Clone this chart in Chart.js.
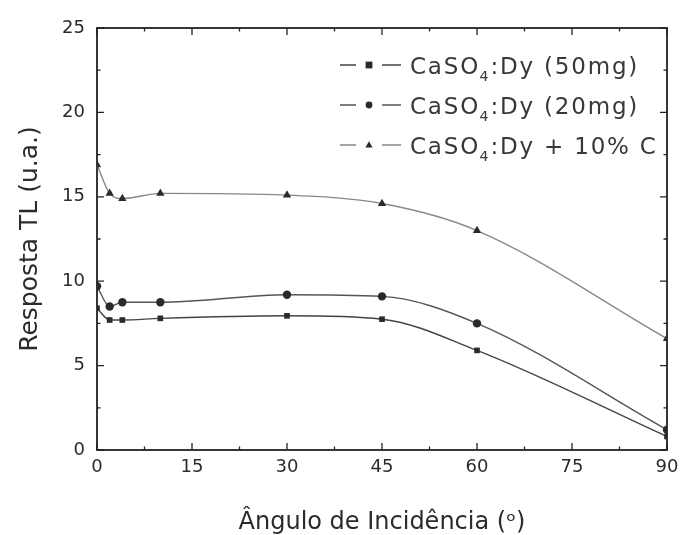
<!DOCTYPE html>
<html><head><meta charset="utf-8">
<script src="https://cdn.jsdelivr.net/npm/chart.js@4.4.1/dist/chart.umd.min.js"></script>
<style>html,body{margin:0;padding:0;background:#fff;} #wrap{width:686px;height:535px;position:relative;}</style>
</head><body><div id="wrap"><canvas id="c" width="686" height="535"></canvas></div>
<script>
const angles = [0, 2, 4, 10, 30, 45, 60, 90];
const resp50mg = [8.4, 7.7, 7.7, 7.8, 7.95, 7.75, 5.9, 0.8];
const resp20mg = [9.7, 8.5, 8.75, 8.75, 9.2, 9.1, 7.5, 1.2];
const respC = [16.9, 15.2, 14.9, 15.2, 15.1, 14.6, 13.0, 6.6];
const seriesLabels = ['CaSO\u2084:Dy (50mg)', 'CaSO\u2084:Dy (20mg)', 'CaSO\u2084:Dy + 10% C'];
const xTitle = '\u00C2ngulo de Incid\u00EAncia (\u1D52)';
const yTitle = 'Resposta TL (u.a.)';
const xMin = 0, xMax = 90, xStep = 15;
const yMin = 0, yMax = 25, yStep = 5;

const FONT = "'DejaVu Sans', Verdana, sans-serif";
const TXT = '#2b2b2b';

function pts(ys){ return angles.map((a,i)=>({x:a,y:ys[i]})); }

const styles = [
  {shape:'rect', line:'#444444', r:4.0},
  {shape:'circle', line:'#555555', r:4.2},
  {shape:'triangle', line:'#888888', r:4.8}
];
const seriesData = [resp50mg, resp20mg, respC];

const datasets = seriesData.map((d,i)=>({
  label: seriesLabels[i],
  data: pts(d),
  borderColor: styles[i].line,
  borderWidth: 1.4,
  backgroundColor: '#2a2a2a',
  pointBackgroundColor: '#2a2a2a',
  pointBorderColor: '#2a2a2a',
  pointBorderWidth: 0,
  pointStyle: styles[i].shape,
  pointRadius: styles[i].r,
  pointHoverRadius: styles[i].r,
  cubicInterpolationMode: 'monotone',
  fill: false
}));

const frameTicks = {
  id: 'frameTicks',
  beforeDatasetsDraw(chart){
    const {ctx, chartArea:a, scales:{x, y}} = chart;
    ctx.save();
    ctx.strokeStyle = '#222222';
    ctx.lineWidth = 1.8;
    ctx.strokeRect(a.left, a.top, a.right - a.left, a.bottom - a.top);
    ctx.lineWidth = 1.3;
    ctx.beginPath();
    for (let v = xMin; v <= xMax + 1e-9; v += xStep/2) {
      const px = x.getPixelForValue(v);
      const major = Math.abs(v/xStep - Math.round(v/xStep)) < 1e-6;
      const L = major ? 7 : 3.5;
      ctx.moveTo(px, a.bottom); ctx.lineTo(px, a.bottom - L);
      ctx.moveTo(px, a.top); ctx.lineTo(px, a.top + L);
    }
    for (let v = yMin; v <= yMax + 1e-9; v += yStep/2) {
      const py = y.getPixelForValue(v);
      const major = Math.abs(v/yStep - Math.round(v/yStep)) < 1e-6;
      const L = major ? 7 : 3.5;
      ctx.moveTo(a.left, py); ctx.lineTo(a.left + L, py);
      ctx.moveTo(a.right, py); ctx.lineTo(a.right - L, py);
    }
    ctx.stroke();
    ctx.restore();
  }
};

function drawMarker(ctx, shape, cx, cy, r){
  ctx.beginPath();
  if (shape === 'rect') { ctx.rect(cx - r, cy - r, 2*r, 2*r); }
  else if (shape === 'circle') { ctx.arc(cx, cy, r, 0, Math.PI*2); }
  else { const h = r*1.8; ctx.moveTo(cx, cy - h*0.6); ctx.lineTo(cx + r*1.05, cy + h*0.4); ctx.lineTo(cx - r*1.05, cy + h*0.4); ctx.closePath(); }
  ctx.fill();
}

const customLegend = {
  id: 'customLegend',
  afterDraw(chart){
    const ctx = chart.ctx;
    ctx.save();
    const rows = [65, 105, 145];
    chart.data.datasets.forEach((ds, i) => {
      const yy = rows[i];
      ctx.strokeStyle = ds.borderColor;
      ctx.lineWidth = 1.3;
      ctx.beginPath();
      ctx.moveTo(340, yy); ctx.lineTo(356, yy);
      ctx.moveTo(382, yy); ctx.lineTo(401, yy);
      ctx.stroke();
      ctx.fillStyle = '#2a2a2a';
      drawMarker(ctx, styles[i].shape, 369, yy, 3.4);
      ctx.fillStyle = '#383838';
      ctx.textBaseline = 'alphabetic';
      ctx.textAlign = 'left';
      const parts = ds.label.split('\u2084');
      let xx = 410;
      const base = yy + 8.5;
      ctx.letterSpacing = '1.8px';
      ctx.font = '23px ' + FONT;
      ctx.fillText(parts[0], xx, base);
      xx += ctx.measureText(parts[0]).width;
      ctx.font = '14px ' + FONT;
      ctx.letterSpacing = '0px';
      ctx.fillText('4', xx - 0.5, base + 7.5);
      xx += ctx.measureText('4').width + 1.5;
      ctx.letterSpacing = '1.8px';
      ctx.font = '23px ' + FONT;
      ctx.fillText(parts[1], xx, base);
    });
    ctx.restore();
  }
};

new Chart(document.getElementById('c'), {
  type: 'line',
  data: { datasets },
  options: {
    responsive: false,
    animation: false,
    devicePixelRatio: 1,
    layout: { padding: { top: 28, right: 19, bottom: 0, left: 0 } },
    plugins: { legend: { display: false }, tooltip: { enabled: false } },
    scales: {
      x: {
        type: 'linear', min: xMin, max: xMax,
        afterFit(s){ s.height = 85; },
        afterBuildTicks(s){ s.ticks = []; for (let v = xMin; v <= xMax; v += xStep) s.ticks.push({value: v}); },
        ticks: { color: TXT, font: { family: FONT, size: 18 }, padding: 7, maxRotation: 0, autoSkip: false },
        grid: { display: false, drawTicks: false },
        border: { display: false },
        title: { display: true, text: xTitle, color: TXT, font: { family: FONT, size: 24, lineHeight: 1 }, padding: { top: 6, bottom: 0 } }
      },
      y: {
        type: 'linear', min: yMin, max: yMax,
        afterFit(s){ s.width = 97; },
        afterBuildTicks(s){ s.ticks = []; for (let v = yMin; v <= yMax; v += yStep) s.ticks.push({value: v}); },
        ticks: { color: TXT, font: { family: FONT, size: 18 }, padding: 12, autoSkip: false },
        grid: { display: false, drawTicks: false },
        border: { display: false },
        title: { display: true, text: yTitle, color: TXT, font: { family: FONT, size: 25, lineHeight: 1 }, padding: { top: 18, bottom: 0 } }
      }
    }
  },
  plugins: [frameTicks, customLegend]
});
</script>
</body></html>
